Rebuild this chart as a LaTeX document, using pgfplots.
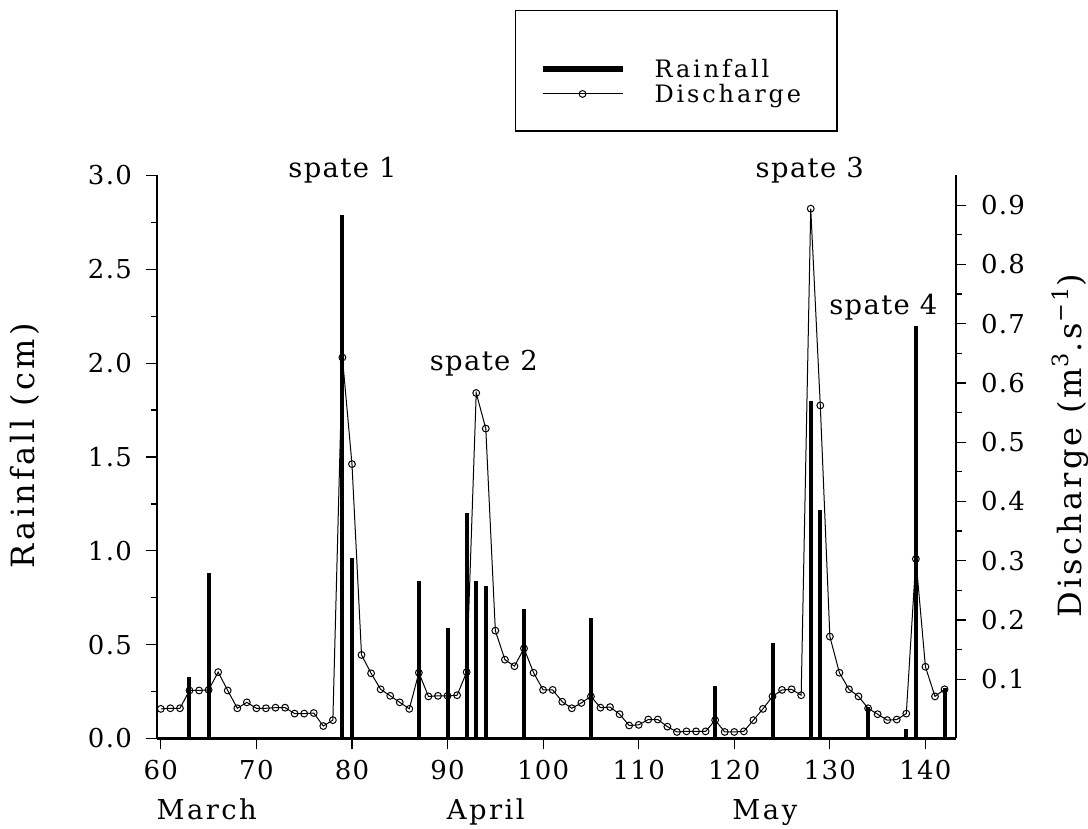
\documentclass[border=0pt]{standalone}
\usepackage{pgfplots}
\usepackage{pgfplotstable}
\pgfplotsset{compat=1.18}
\usepackage{fontspec}
\setmainfont{DejaVu Serif}
\newfontfamily\legfont[LetterSpace=12]{DejaVu Serif}
\newfontfamily\labfont[LetterSpace=10]{DejaVu Serif}
\newfontfamily\spfont[LetterSpace=5]{DejaVu Serif}
\newfontfamily\monfont[LetterSpace=9]{DejaVu Serif}
\newfontfamily\tickfont[LetterSpace=5]{DejaVu Serif}

\pgfplotstableread{
day rain
63 0.33
65 0.88
79 2.79
80 0.96
87 0.84
90 0.59
92 1.20
93 0.84
94 0.81
98 0.69
105 0.64
118 0.28
124 0.51
128 1.80
129 1.22
134 0.17
138 0.05
139 2.20
142 0.27
}\raintable

\pgfplotstableread{
day q
60 0.050
61 0.051
62 0.051
63 0.081
64 0.081
65 0.082
66 0.112
67 0.081
68 0.051
69 0.061
70 0.051
71 0.051
72 0.052
73 0.052
74 0.042
75 0.042
76 0.043
77 0.021
78 0.031
79 0.643
80 0.463
81 0.141
82 0.110
83 0.083
84 0.072
85 0.061
86 0.050
87 0.111
88 0.071
89 0.072
90 0.072
91 0.073
92 0.112
93 0.583
94 0.523
95 0.182
96 0.133
97 0.122
98 0.152
99 0.111
100 0.082
101 0.082
102 0.062
103 0.051
104 0.060
105 0.071
106 0.052
107 0.053
108 0.041
109 0.022
110 0.023
111 0.032
112 0.032
113 0.020
114 0.011
115 0.012
116 0.012
117 0.012
118 0.031
119 0.011
120 0.011
121 0.012
122 0.031
123 0.050
124 0.071
125 0.082
126 0.083
127 0.073
128 0.894
129 0.562
130 0.172
131 0.111
132 0.083
133 0.071
134 0.051
135 0.041
136 0.031
137 0.032
138 0.042
139 0.303
140 0.121
141 0.071
142 0.083
}\qtable

\begin{document}
\begin{tikzpicture}
\useasboundingbox (0,0) rectangle (544pt,414.5pt);
% discharge axis (right)
\begin{axis}[
  at={(78.5pt,45.25pt)}, anchor=south west,
  scale only axis, width=399.5pt, height=281.5pt,
  xmin=59.6, xmax=143.2, ymin=0, ymax=0.95,
  axis y line*=right, axis x line=none,
  ytick={0.1,0.2,0.3,0.4,0.5,0.6,0.7,0.8,0.9},
  minor y tick num=1,
  tick align=outside,
  major tick length=5pt, minor tick length=3pt,
  /pgf/number format/assume math mode=true,
  yticklabel style={/pgf/number format/fixed, /pgf/number format/fixed zerofill, /pgf/number format/precision=1, xshift=4pt},
  tick label style={font=\tickfont\fontsize{13}{16}\selectfont},
  axis line style={line width=1.2pt},
  tick style={line width=0.6pt, black},
  ylabel={\labfont\fontsize{16}{18}\selectfont Discharge (m\textsuperscript{3}.s\textsuperscript{\char"2212 1})},
  ylabel style={at={(axis description cs:1.1427,0.52)}, anchor=center},
  legend image code/.code={\draw[draw=none] (0pt,0pt) -- (1pt,0pt);
    \draw[mark repeat=2,mark phase=2,#1] plot coordinates {(0pt,4.5pt) (20pt,4.5pt) (40pt,4.5pt)};},
  legend style={at={(0.448,1.294)}, anchor=north west, draw=black, line width=0.6pt, fill=white,
    inner xsep=12pt, inner ysep=6pt, row sep=3.4pt,
    font=\legfont\fontsize{12}{14}\selectfont,
    nodes={inner sep=0pt, text depth=}, cells={anchor=base west},
    /tikz/every odd column/.append style={column sep=14.5pt}},
  clip=false,
]
\addlegendimage{black, line width=3pt}
\addlegendentry{\rule{0pt}{27.5pt}Rainfall}
\addplot[black, line width=0.5pt, mark=o, mark size=1.7pt, mark options={line width=0.5pt}] table[x=day,y=q]{\qtable};
\addlegendentry{\rule[-8pt]{0pt}{8pt}Discharge\hspace*{6pt}}
\end{axis}
% rainfall axis (left)
\begin{axis}[
  at={(78.5pt,45.25pt)}, anchor=south west,
  scale only axis, width=399.5pt, height=281.5pt,
  xmin=59.6, xmax=143.2, ymin=0, ymax=3,
  axis x line*=bottom, axis y line*=left,
  xtick={60,70,80,90,100,110,120,130,140},
  ytick={0,0.5,1,1.5,2,2.5,3},
  minor y tick num=1,
  tick align=outside,
  major tick length=5.5pt, minor tick length=3pt,
  /pgf/number format/assume math mode=true,
  yticklabel style={/pgf/number format/fixed, /pgf/number format/fixed zerofill, /pgf/number format/precision=1, xshift=-3.5pt},
  tick label style={font=\tickfont\fontsize{13}{16}\selectfont},
  xticklabel style={yshift=-2pt},
  axis line style={line width=1.2pt},
  tick style={line width=0.6pt, black},
  ylabel={\labfont\fontsize{16}{18}\selectfont Rainfall (cm)},
  ylabel style={at={(axis description cs:-0.1652,0.52)}, anchor=center},
  clip=false,
]
\addplot[ycomb, black, line width=2pt] table[x=day,y=rain]{\raintable};
\node[font=\spfont\fontsize{13.7}{16}\selectfont] at (axis cs:79.0,3.03) {spate 1};
\node[font=\spfont\fontsize{13.7}{16}\selectfont] at (axis cs:93.8,2.0) {spate 2};
\node[font=\spfont\fontsize{13.7}{16}\selectfont] at (axis cs:127.9,3.03) {spate 3};
\node[font=\spfont\fontsize{13.7}{16}\selectfont] at (axis cs:135.6,2.3) {spate 4};
\node[anchor=base, font=\monfont\fontsize{13.7}{16}\selectfont, yshift=-40.5pt] at (axis cs:64.8,0) {March};
\node[anchor=base, font=\monfont\fontsize{13.7}{16}\selectfont, yshift=-40.5pt] at (axis cs:94,0) {April};
\node[anchor=base, font=\monfont\fontsize{13.7}{16}\selectfont, yshift=-40.5pt] at (axis cs:123.2,0) {May};
\end{axis}
\end{tikzpicture}
\end{document}
